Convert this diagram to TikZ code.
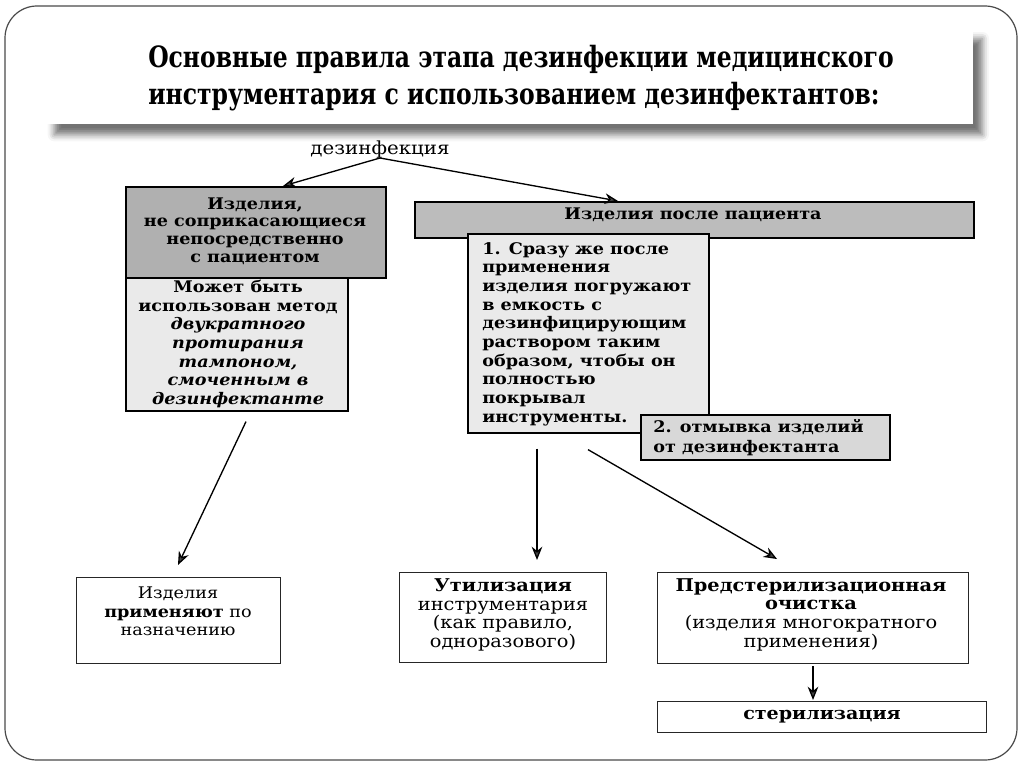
\documentclass[tikz,border=0pt]{standalone}
\usepackage{fontspec}
\setmainfont{DejaVu Serif}
\newfontfamily\titlefont[FakeStretch=0.8]{DejaVu Serif}
\newfontfamily\dfont[FakeStretch=1.1]{DejaVu Serif}
\usetikzlibrary{arrows.meta,shadows.blur,calc}
\definecolor{darkfill}{HTML}{B0B0B0}
\definecolor{barfill}{HTML}{BCBCBC}
\definecolor{lightfill}{HTML}{EAEAEA}
\definecolor{midfill}{HTML}{D8D8D8}
\definecolor{framecol}{HTML}{4A4A4A}
\tikzset{
  boxa/.style={draw=black, line width=1.2pt, inner sep=0pt, anchor=north west},
  boxb/.style={draw=black!85, line width=0.9pt, fill=white, inner sep=0pt, anchor=north west},
  txt/.style={inner sep=0pt, font=\dfont\fontsize{12}{14}\selectfont},
  arr/.style={line width=1pt, -{Stealth[length=10pt,width=8pt]}},
}
\begin{document}
\begin{tikzpicture}[x=0.75pt,y=-0.75pt]
\useasboundingbox (0,0) rectangle (1024,767);
% outer frame
\draw[framecol, line width=0.9pt, rounded corners=24pt] (5,6) rectangle (1017,760);
% title banner
\fill[white, blur shadow={shadow xshift=7pt, shadow yshift=-8pt, shadow blur radius=5pt, shadow opacity=55}] (45,28) rectangle (973,124);
\node[anchor=west, align=left, inner sep=0pt, font=\titlefont\bfseries\fontsize{22}{27.75}\selectfont] (title) at (148,78.5)
  {Основные правила этапа дезинфекции медицинского\\инструментария с использованием дезинфектантов:};
% top label
\node[txt, font=\dfont\fontsize{13.5}{14}\selectfont] (dez) at (380,150) {дезинфекция};
\coordinate (split) at (380,158);
% left column
\node[boxa, fill=darkfill, minimum width=195pt, minimum height=68.25pt] (leftTop) at (125,186) {};
\node[txt, align=center, font=\dfont\bfseries\fontsize{12}{13.2}\selectfont] (leftTopT) at (255,231)
  {Изделия,\\не соприкасающиеся\\непосредственно\\с пациентом};
\node[boxa, fill=lightfill, minimum width=166.5pt, minimum height=99.75pt] (leftLow) at (125,277) {};
\node[txt, align=center, font=\dfont\bfseries\fontsize{12}{14}\selectfont] (leftLowT) at (238,344)
  {Может быть\\использован метод\\\textit{двукратного}\\\textit{протирания}\\\textit{тампоном,}\\\textit{смоченным в}\\\textit{дезинфектанте}};
% right column
\node[boxa, fill=barfill, minimum width=419.25pt, minimum height=27pt] (bar) at (414,201) {};
\node[txt, font=\dfont\bfseries\fontsize{12}{14}\selectfont] (barT) at (693,215) {Изделия после пациента};
\node[boxa, fill=lightfill, minimum width=180.75pt, minimum height=149.25pt] (box1) at (467,233) {};
\node[txt, anchor=west, align=left, font=\dfont\bfseries\fontsize{12}{14}\selectfont] (box1T) at (482,334)
  {1. Сразу же после\\применения\\изделия погружают\\в емкость с\\дезинфицирующим\\раствором таким\\образом, чтобы он\\полностью\\покрывал\\инструменты.};
\node[boxa, fill=midfill, minimum width=186.75pt, minimum height=33.75pt] (box2) at (640,414) {};
\node[txt, anchor=west, align=left, font=\dfont\bfseries\fontsize{12}{15}\selectfont] (box2T) at (653,438)
  {2. отмывка изделий\\от дезинфектанта};
% bottom row
\node[boxb, minimum width=153pt, minimum height=64.5pt] (botLeft) at (76,577) {};
\node[txt, align=center] (botLeftT) at (178,611.5) {Изделия\\\textbf{применяют} по\\назначению};
\node[boxb, minimum width=155.25pt, minimum height=67.5pt] (botMid) at (399,572) {};
\node[txt, align=center, font=\dfont\fontsize{13.2}{14}\selectfont] (botMidT) at (503,615) {\textbf{Утилизация}\\инструментария\\(как правило,\\одноразового)};
\node[boxb, minimum width=233.25pt, minimum height=68.25pt] (botRight) at (657,572) {};
\node[txt, align=center, font=\dfont\fontsize{13.2}{14}\selectfont] (botRightT) at (811,614.5) {\textbf{Предстерилизационная}\\\textbf{очистка}\\(изделия многократного\\применения)};
\node[boxb, minimum width=246.75pt, minimum height=23.25pt] (steril) at (657,701) {};
\node[txt, font=\dfont\fontsize{13}{14}\selectfont] (sterilT) at (822,717) {\textbf{стерилизация}};
% connectors
\draw[arr] (split) -- ($(leftTop.north west)+(158,0)$);
\draw[arr] (split) -- ($(bar.north west)+(204,0)$);
\draw[arr] ($(leftLow.south west)+(121,10)$) -- ($(botLeft.north west)+(102,-12)$);
\draw[arr] ($(box1.south west)+(70,15)$) -- ($(botMid.north west)+(138,-12)$);
\draw[arr] ($(box1.south west)+(121,16)$) -- ($(botRight.north west)+(120,-13)$);
\draw[arr] ($(botRight.south west)+(156,2)$) -- ($(steril.north west)+(156,-1)$);
\end{tikzpicture}
\end{document}
